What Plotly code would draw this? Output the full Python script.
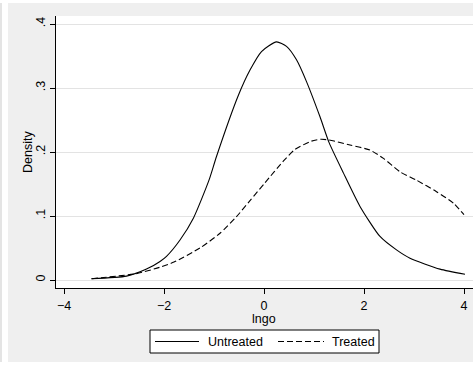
import plotly.graph_objects as go

# Kernel density estimates of lngo by treatment status
untreated_x = [-3.45, -2.75, -2.35, -2.08, -1.95, -1.68, -1.41, -1.10, -0.95, -0.51,
               -0.28, -0.05, 0.25, 0.45, 0.65, 0.85, 1.12, 1.30, 1.59, 1.92,
               2.32, 2.65, 2.92, 3.52, 4.02]
untreated_y = [0.002, 0.006, 0.017, 0.029, 0.037, 0.0625, 0.097, 0.156, 0.193, 0.289,
               0.328, 0.357, 0.372, 0.365, 0.344, 0.310, 0.255, 0.215, 0.167, 0.115,
               0.068, 0.047, 0.034, 0.017, 0.009]

treated_x = [-3.45, -2.55, -2.08, -1.80, -1.28, -0.88, -0.55, -0.28, 0.02, 0.39,
             0.62, 0.95, 1.15, 1.35, 1.72, 2.12, 2.39, 2.72, 3.05, 3.45, 3.79, 4.00]
treated_y = [0.002, 0.010, 0.020, 0.028, 0.050, 0.073, 0.099, 0.124, 0.152, 0.186,
             0.204, 0.217, 0.220, 0.218, 0.211, 0.203, 0.190, 0.169, 0.156, 0.138, 0.120, 0.102]

x_ticks = [-4, -2, 0, 2, 4]
y_ticks = [0, 0.1, 0.2, 0.3, 0.4]
y_ticktext = ["0", ".1", ".2", ".3", ".4"]
series_names = ["Untreated", "Treated"]

W, H = 473, 367
ML, MR, MT, MB = 56, 0, 16, 79
PW, PH = W - ML - MR, H - MT - MB
FONT = "Liberation Sans, Arial, sans-serif"
BG = "#efefef"


def px_x(p):
    return (p - ML) / PW


def px_y(p):
    return (H - MB - p) / PH


fig = go.Figure()
fig.add_trace(go.Scatter(x=untreated_x, y=untreated_y, mode="lines", name=series_names[0],
                         line=dict(color="black", width=1.1, shape="spline", smoothing=0.6),
                         showlegend=False))
fig.add_trace(go.Scatter(x=treated_x, y=treated_y, mode="lines", name=series_names[1],
                         line=dict(color="black", width=1.1, dash="6px,3px",
                                   shape="spline", smoothing=0.6),
                         showlegend=False))

shapes = [
    # white margins around the graph region
    dict(type="rect", xref="paper", yref="paper", x0=px_x(0), x1=px_x(8),
         y0=px_y(H), y1=px_y(0), fillcolor="white", line_width=0, layer="below"),
    dict(type="rect", xref="paper", yref="paper", x0=px_x(0), x1=px_x(W),
         y0=px_y(3), y1=px_y(0), fillcolor="white", line_width=0, layer="below"),
    dict(type="rect", xref="paper", yref="paper", x0=px_x(0), x1=px_x(W),
         y0=px_y(H), y1=px_y(362), fillcolor="white", line_width=0, layer="below"),
    dict(type="rect", xref="paper", yref="paper", x0=px_x(0), x1=px_x(2),
         y0=px_y(362), y1=px_y(3), fillcolor="#e4e4e4", line_width=0, layer="below"),
    # legend box
    dict(type="rect", xref="paper", yref="paper", x0=px_x(150), x1=px_x(379),
         y0=px_y(353), y1=px_y(330), fillcolor="white",
         line=dict(color="black", width=1), layer="above"),
    dict(type="line", xref="paper", yref="paper", x0=px_x(155), x1=px_x(199),
         y0=px_y(341.5), y1=px_y(341.5), line=dict(color="black", width=1.1)),
    dict(type="line", xref="paper", yref="paper", x0=px_x(278), x1=px_x(324),
         y0=px_y(341.5), y1=px_y(341.5), line=dict(color="black", width=1.1, dash="6px,3px")),
]

annotations = [
    dict(text=series_names[0], xref="paper", yref="paper", x=px_x(206), y=px_y(341.5),
         xanchor="left", yanchor="middle", showarrow=False,
         font=dict(family=FONT, size=12.5, color="black")),
    dict(text=series_names[1], xref="paper", yref="paper", x=px_x(330), y=px_y(341.5),
         xanchor="left", yanchor="middle", showarrow=False,
         font=dict(family=FONT, size=12.5, color="black")),
    dict(text="lngo", xref="paper", yref="paper", x=px_x(264), y=px_y(318.5),
         xanchor="center", yanchor="middle", showarrow=False,
         font=dict(family=FONT, size=12.5, color="black")),
    dict(text="Density", xref="paper", yref="paper", x=px_x(28), y=px_y(152),
         xanchor="center", yanchor="middle", showarrow=False, textangle=-90,
         font=dict(family=FONT, size=12.5, color="black")),
]

fig.update_layout(
    width=W, height=H, autosize=False,
    margin=dict(l=ML, r=MR, t=MT, b=MB, pad=0),
    paper_bgcolor=BG, plot_bgcolor="white",
    font=dict(family=FONT, size=12.5, color="black"),
    shapes=shapes, annotations=annotations,
    xaxis=dict(range=[-4.16, 4.18], tickvals=x_ticks, ticks="outside", ticklen=5,
               tickcolor="black", showgrid=False, zeroline=False, showline=True,
               linecolor="black", linewidth=1, fixedrange=True, ticklabelstandoff=1),
    yaxis=dict(range=[-0.0125, 0.4125], tickvals=y_ticks, ticktext=y_ticktext,
               tickangle=-90, ticks="outside", ticklen=5, tickcolor="black",
               showgrid=True, gridcolor="#e3e3e3", gridwidth=1, zeroline=False,
               showline=True, linecolor="black", linewidth=1, fixedrange=True),
)

fig.write_html("out.html", config={"displayModeBar": False})
